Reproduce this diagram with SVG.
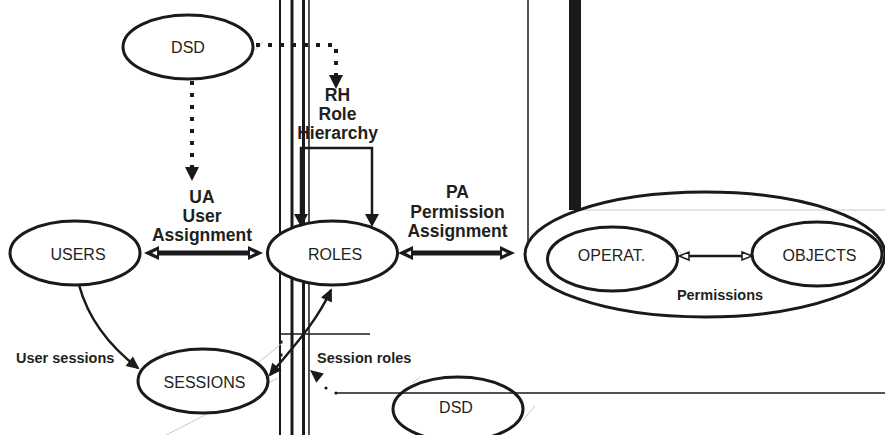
<svg xmlns="http://www.w3.org/2000/svg" width="885" height="435" viewBox="0 0 885 435">
<style>
.node ellipse { fill:#fff; stroke:#1a1a1a; stroke-width:3; }
.node ellipse.open { fill:none; }
.lbl { font-family:"Liberation Sans", Arial, sans-serif; font-size:16px; fill:#231f20; text-anchor:middle; }
.bold { font-family:"Liberation Sans", Arial, sans-serif; font-weight:bold; font-size:17.5px; fill:#231f20; text-anchor:middle; }
.small { font-size:14.5px; }
.start { text-anchor:start; }
.dot { fill:none; stroke:#1a1a1a; stroke-width:4; stroke-dasharray:4 8; }
.thick { stroke:#1a1a1a; stroke-width:5; fill:none; }
.conn { stroke:#1a1a1a; stroke-width:2.5; fill:none; }
.vl { stroke:#1a1a1a; fill:none; }
.gray { stroke:#c8c8c8; stroke-width:1; fill:none; }
marker { overflow:visible; }
</style>
<defs>
<marker id="bigHead" markerUnits="userSpaceOnUse" markerWidth="20" markerHeight="20" viewBox="0 -10 20 20" refX="0" refY="0" orient="auto-start-reverse">
<path d="M0,-7 L15,0 L0,7 Z" fill="#1a1a1a"/>
<path d="M2,-2.5 L7,0 L2,2.5 Z" fill="#fff"/>
</marker>
<marker id="tipHead" markerUnits="userSpaceOnUse" markerWidth="16" markerHeight="16" viewBox="0 -8 16 16" refX="11" refY="0" orient="auto-start-reverse">
<path d="M0,-6 L13,0 L0,6 Z" fill="#1a1a1a"/>
</marker>
<marker id="baseHead" markerUnits="userSpaceOnUse" markerWidth="16" markerHeight="16" viewBox="0 -8 16 16" refX="0" refY="0" orient="auto-start-reverse">
<path d="M0,-7 L13,0 L0,7 Z" fill="#1a1a1a"/>
</marker>
<marker id="dotHead" markerUnits="userSpaceOnUse" markerWidth="16" markerHeight="16" viewBox="0 -8 16 16" refX="0" refY="0" orient="auto">
<path d="M0,-7 L14,0 L0,7 Z" fill="#1a1a1a"/>
</marker>
<marker id="smallHead" markerUnits="userSpaceOnUse" markerWidth="14" markerHeight="12" viewBox="0 -6 14 12" refX="0" refY="0" orient="auto-start-reverse">
<path d="M0,-4 L10,0 L0,4 Z" fill="#fff" stroke="#1a1a1a" stroke-width="1.5"/>
</marker>
</defs>
<rect width="885" height="435" fill="#fff"/>

<g id="background">
<line class="vl" x1="280" y1="0" x2="280" y2="435" stroke-width="2"/>
<line class="vl" x1="292" y1="0" x2="292" y2="435" stroke-width="3"/>
<line class="vl" x1="303.5" y1="0" x2="303.5" y2="435" stroke-width="3"/>
<line class="vl" x1="309" y1="0" x2="309" y2="435" stroke-width="1.5"/>
<line class="vl" x1="528" y1="0" x2="528" y2="241" stroke-width="1.5" stroke="#333"/>
<rect x="569" y="0" width="12" height="210" fill="#1a1a1a"/>
<line class="gray" x1="580" y1="210" x2="885" y2="210"/>
<line class="vl" x1="279" y1="334" x2="370" y2="334" stroke-width="1.5"/>
<line class="vl" x1="335" y1="393" x2="885" y2="393" stroke-width="1.5"/>
<line class="gray" x1="282" y1="343" x2="258" y2="363"/>
<line class="gray" x1="278" y1="378" x2="166" y2="435"/>
<line class="gray" x1="167" y1="350" x2="158" y2="357"/>
<line class="gray" x1="255" y1="50" x2="263" y2="42"/>
<line class="gray" x1="523" y1="420" x2="535" y2="406"/>
<line class="gray" x1="413" y1="383" x2="420" y2="377"/>
<line class="gray" x1="678" y1="250" x2="690" y2="262"/>
<rect x="279.5" y="340.5" width="3" height="3" fill="#1a1a1a"/>
<rect x="279.5" y="353.5" width="3" height="3" fill="#1a1a1a"/>
</g>

<g id="node-dsd-top" class="node">
<ellipse cx="188" cy="47" rx="65" ry="32"/>
<text class="lbl" x="188" y="52.5">DSD</text>
</g>
<g id="node-users" class="node">
<ellipse cx="75" cy="253" rx="65" ry="32"/>
<text class="lbl" x="78" y="260">USERS</text>
</g>
<g id="node-roles" class="node">
<ellipse cx="332.5" cy="253" rx="65" ry="32"/>
<text class="lbl" x="335" y="260">ROLES</text>
</g>
<g id="node-sessions" class="node">
<ellipse cx="203" cy="381" rx="65" ry="32"/>
<text class="lbl" x="204.5" y="388">SESSIONS</text>
</g>
<g id="node-dsd-bottom" class="node">
<ellipse class="open" cx="458" cy="409" rx="65" ry="32"/>
<text class="lbl" x="456" y="412.5">DSD</text>
</g>
<g id="node-permissions" class="node">
<ellipse class="open" cx="705" cy="254.5" rx="180" ry="62.5"/>
<text class="bold small" x="720" y="300">Permissions</text>
</g>
<g id="node-operat" class="node">
<ellipse cx="612.5" cy="259" rx="65" ry="32"/>
<text class="lbl" x="611.5" y="261">OPERAT.</text>
</g>
<g id="node-objects" class="node">
<ellipse cx="817" cy="254" rx="65" ry="32"/>
<text class="lbl" x="819.5" y="261">OBJECTS</text>
</g>

<g id="connectors">
<path class="dot" d="M256,45 H336 V75" marker-end="url(#dotHead)"/>
<path class="dot" d="M192,81 V167" marker-end="url(#dotHead)"/>
<path class="conn" d="M301,214 V148 H372 V214" marker-start="url(#baseHead)" marker-end="url(#baseHead)"/>
<line class="thick" x1="159" y1="253" x2="248" y2="253" marker-start="url(#bigHead)" marker-end="url(#bigHead)"/>
<line class="thick" x1="413" y1="253" x2="500" y2="253" marker-start="url(#bigHead)" marker-end="url(#bigHead)"/>
<line class="conn" x1="689" y1="256" x2="742" y2="256" stroke-width="3" marker-start="url(#smallHead)" marker-end="url(#smallHead)"/>
<path class="conn" d="M79,285 C88,318 108,345 138,368" marker-end="url(#tipHead)"/>
<path class="conn" d="M270,375 C290,350 315,325 331,290" marker-start="url(#tipHead)" marker-end="url(#tipHead)"/>
<circle cx="336" cy="393" r="1.6" fill="#1a1a1a"/>
<circle cx="326" cy="388" r="1.6" fill="#1a1a1a"/>
<polygon points="310,370 323.8,373.4 316.4,382.8" fill="#1a1a1a"/>
</g>

<g id="labels">
<text class="bold" x="337.5" y="100.5">RH</text>
<text class="bold" x="337.5" y="119.5">Role</text>
<text class="bold" x="337.5" y="138.5">Hierarchy</text>
<text class="bold" x="202" y="203">UA</text>
<text class="bold" x="202" y="222">User</text>
<text class="bold" x="202" y="241">Assignment</text>
<text class="bold" x="457.5" y="198">PA</text>
<text class="bold" x="457.5" y="218">Permission</text>
<text class="bold" x="457.5" y="237">Assignment</text>
<text class="bold small start" x="16" y="363">User sessions</text>
<text class="bold small start" x="317" y="363">Session roles</text>
</g>
</svg>
